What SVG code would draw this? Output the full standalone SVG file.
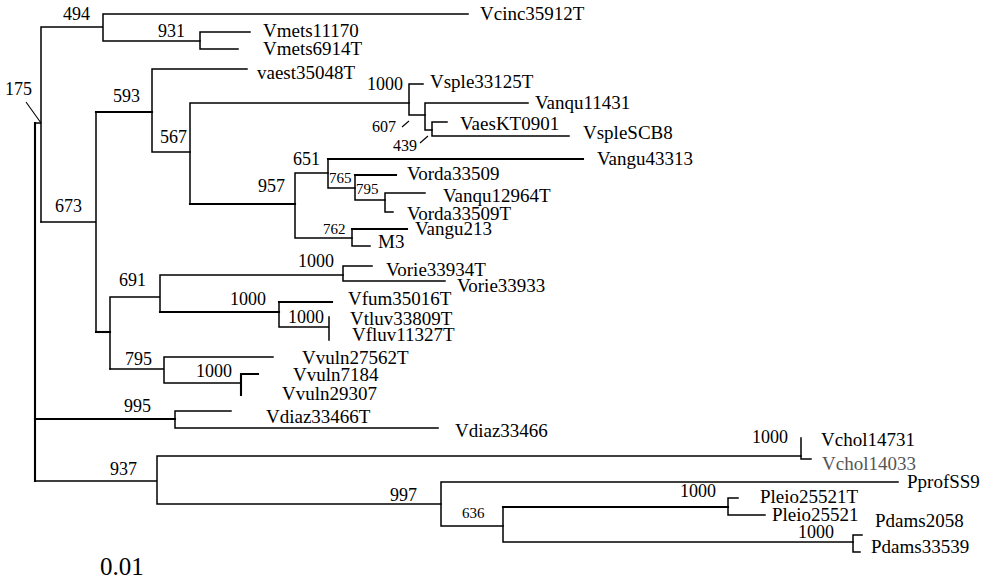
<svg xmlns="http://www.w3.org/2000/svg" width="996" height="588" viewBox="0 0 996 588">
<style>
.br{fill:none;stroke:#000;stroke-width:1.5;stroke-linecap:square}
.tk{stroke-width:2.1}
.ld{fill:none;stroke:#000;stroke-width:1.1}
text{font-family:"Liberation Serif","Times New Roman",serif;fill:#000}
.lf{font-size:19px}
.bs{font-size:18px}
.sm{font-size:15px}
.md{font-size:16px}
.gr{fill:#555}
</style>
<rect width="996" height="588" fill="#fff"/>
<g id="connectors">
<path class="br tk" d="M35,123V481"/>
<path class="br" d="M35,123H41M41,27V222M41,27H103M103,14V41M103,14H468M103,41H200"/>
<path class="br" d="M200,32V49M200,32H250M200,49H238"/>
<path class="br" d="M41,222H96M96,112V332"/>
<path class="br tk" d="M96,112H152"/>
<path class="br" d="M152,69V152M152,69H247M152,152H190"/>
<path class="br" d="M190,103V204M190,103H409"/>
<path class="br tk" d="M190,204H295"/>
<path class="br" d="M409,84V115M409,84H423M409,115H425"/>
<path class="br" d="M425,103V130M425,103H528M425,130H432"/>
<path class="br" d="M432,122V136M432,122H447M432,136H569"/>
<path class="br" d="M295,173V238M295,173H328M295,238H352"/>
<path class="br" d="M328,159V188M328,188H355"/>
<path class="br tk" d="M328,159H583"/>
<path class="br" d="M355,175V200M355,200H385"/>
<path class="br tk" d="M355,175H396"/>
<path class="br" d="M385,193V212M385,193H425M385,212H393"/>
<path class="br" d="M352,229V246M352,246H370"/>
<path class="br tk" d="M352,229H407"/>
<path class="br tk" d="M96,332H110"/>
<path class="br" d="M110,297V369M110,297H160M160,275V312M160,275H343"/>
<path class="br tk" d="M160,312H279"/>
<path class="br" d="M343,266V281M343,266H372M343,281H445"/>
<path class="br" d="M279,302V327M279,327H329M329,317V340"/>
<path class="br tk" d="M279,302H332"/>
<path class="br" d="M110,369H164M164,357V383M164,357H273M164,383H241"/>
<path class="br tk" d="M241,374V395M241,374H258"/>
<path class="br tk" d="M35,419H175"/>
<path class="br" d="M175,411V428M175,411H231M175,428H438"/>
<path class="br" d="M35,481H157M157,456V504M157,456H801M157,504H441"/>
<path class="br" d="M801,438V459M801,459H811"/>
<path class="br" d="M441,482V526M441,482H898M441,526H503"/>
<path class="br" d="M503,507V542M503,542H853"/>
<path class="br tk" d="M503,507H728"/>
<path class="br" d="M728,498V515M728,498H738M728,515H765"/>
<path class="br" d="M853,535V552M853,535H862M853,552H860"/>
<path class="ld" d="M26,102L41,123M402,127L409,121M420,143L428,136"/>
</g>
<g id="leaves">
<g id="n-Vcinc35912T"><text class="lf" x="480" y="20">Vcinc35912T</text></g>
<g id="n-Vmets11170"><text class="lf" x="263" y="37">Vmets11170</text></g>
<g id="n-Vmets6914T"><text class="lf" x="263" y="55">Vmets6914T</text></g>
<g id="n-vaest35048T"><text class="lf" x="257" y="79">vaest35048T</text></g>
<g id="n-Vsple33125T"><text class="lf" x="430" y="88">Vsple33125T</text></g>
<g id="n-Vanqu11431"><text class="lf" x="535" y="109">Vanqu11431</text></g>
<g id="n-VaesKT0901"><text class="lf" x="460" y="130">VaesKT0901</text></g>
<g id="n-VspleSCB8"><text class="lf" x="583" y="139">VspleSCB8</text></g>
<g id="n-Vangu43313"><text class="lf" x="597" y="165">Vangu43313</text></g>
<g id="n-Vorda33509"><text class="lf" x="407" y="180">Vorda33509</text></g>
<g id="n-Vanqu12964T"><text class="lf" x="443" y="202">Vanqu12964T</text></g>
<g id="n-Vorda33509T"><text class="lf" x="407" y="220">Vorda33509T</text></g>
<g id="n-Vangu213"><text class="lf" x="415" y="235">Vangu213</text></g>
<g id="n-M3"><text class="lf" x="378" y="248">M3</text></g>
<g id="n-Vorie33934T"><text class="lf" x="386" y="276">Vorie33934T</text></g>
<g id="n-Vorie33933"><text class="lf" x="457" y="292">Vorie33933</text></g>
<g id="n-Vfum35016T"><text class="lf" x="348" y="305">Vfum35016T</text></g>
<g id="n-Vtluv33809T"><text class="lf" x="350" y="325">Vtluv33809T</text></g>
<g id="n-Vfluv11327T"><text class="lf" x="352" y="341">Vfluv11327T</text></g>
<g id="n-Vvuln27562T"><text class="lf" x="302" y="364">Vvuln27562T</text></g>
<g id="n-Vvuln7184"><text class="lf" x="293" y="381">Vvuln7184</text></g>
<g id="n-Vvuln29307"><text class="lf" x="282" y="400">Vvuln29307</text></g>
<g id="n-Vdiaz33466T"><text class="lf" x="266" y="423">Vdiaz33466T</text></g>
<g id="n-Vdiaz33466"><text class="lf" x="455" y="437">Vdiaz33466</text></g>
<g id="n-Vchol14731"><text class="lf" x="821" y="446">Vchol14731</text></g>
<g id="n-Vchol14033"><text class="lf gr" x="822" y="470">Vchol14033</text></g>
<g id="n-PprofSS9"><text class="lf" x="907" y="488">PprofSS9</text></g>
<g id="n-Pleio25521T"><text class="lf" x="760" y="503">Pleio25521T</text></g>
<g id="n-Pleio25521"><text class="lf" x="772" y="521">Pleio25521</text></g>
<g id="n-Pdams2058"><text class="lf" x="875" y="527">Pdams2058</text></g>
<g id="n-Pdams33539"><text class="lf" x="871" y="553">Pdams33539</text></g>
</g>
<g id="internal">
<g id="b175"><text class="bs" x="5" y="95">175</text></g>
<g id="b494"><text class="bs" x="63" y="20">494</text></g>
<g id="b931"><text class="bs" x="158" y="37">931</text></g>
<g id="b593"><text class="bs" x="113" y="102">593</text></g>
<g id="b567"><text class="bs" x="160" y="143">567</text></g>
<g id="b1000a"><text class="bs" x="367" y="90">1000</text></g>
<g id="b607"><text class="md" x="372" y="132">607</text></g>
<g id="b439"><text class="md" x="393" y="151">439</text></g>
<g id="b651"><text class="bs" x="293" y="165">651</text></g>
<g id="b957"><text class="bs" x="258" y="192">957</text></g>
<g id="b765"><text class="sm" x="329" y="183">765</text></g>
<g id="b795a"><text class="sm" x="356" y="194">795</text></g>
<g id="b762"><text class="sm" x="323" y="234">762</text></g>
<g id="b673"><text class="bs" x="55" y="212">673</text></g>
<g id="b1000b"><text class="bs" x="298" y="267">1000</text></g>
<g id="b691"><text class="bs" x="119" y="286">691</text></g>
<g id="b1000c"><text class="bs" x="230" y="305">1000</text></g>
<g id="b1000d"><text class="bs" x="288" y="323">1000</text></g>
<g id="b795b"><text class="bs" x="125" y="365">795</text></g>
<g id="b1000e"><text class="bs" x="196" y="377">1000</text></g>
<g id="b995"><text class="bs" x="124" y="412">995</text></g>
<g id="b937"><text class="bs" x="110" y="475">937</text></g>
<g id="b1000f"><text class="bs" x="752" y="443">1000</text></g>
<g id="b997"><text class="bs" x="390" y="501">997</text></g>
<g id="b636"><text class="sm" x="462" y="518">636</text></g>
<g id="b1000g"><text class="bs" x="680" y="497">1000</text></g>
<g id="b1000h"><text class="bs" x="798" y="538">1000</text></g>
</g>
<g id="scale"><text x="100" y="575" font-size="25">0.01</text></g>
</svg>
